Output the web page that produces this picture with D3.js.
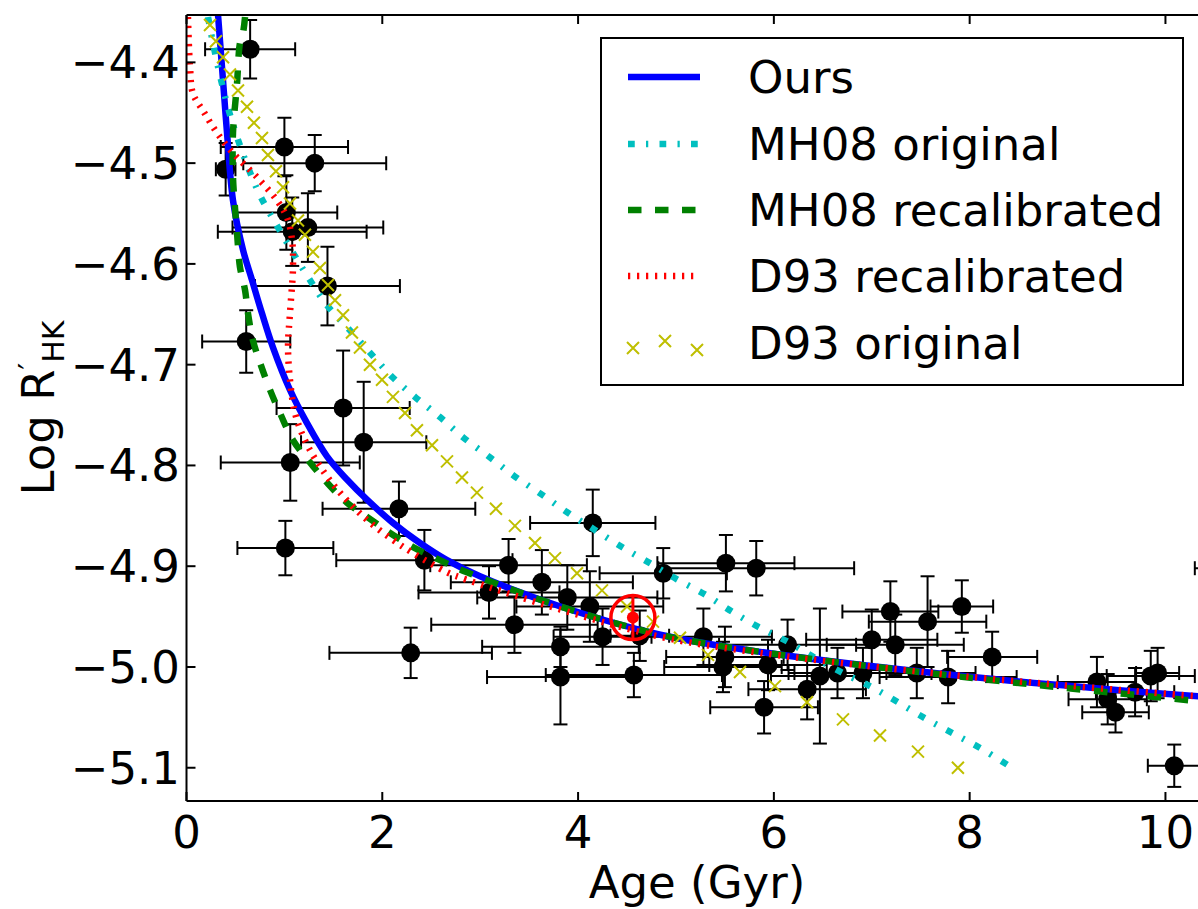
<!DOCTYPE html>
<meta charset="utf-8">
<script src="https://d3js.org/d3.v7.min.js"></script>
<style>
  body { margin: 0; background: #fff; }
  text { font-family: "DejaVu Sans", sans-serif; }
</style>
<div id="my_dataviz"></div>
<script>

// stars: age (Gyr), log R'HK and their errors
const starAge = [0.65, 1.00, 1.31, 0.40, 1.02, 1.08, 1.24, 1.44, 0.61, 1.60, 1.81, 1.06, 2.17, 1.01, 2.43, 2.29,
  4.15, 3.29, 3.63, 3.09, 3.89, 4.12, 4.87, 5.51, 5.82, 3.35, 4.25, 4.63, 3.82, 3.82, 4.57, 5.28, 5.50, 5.48,
  6.14, 5.94, 5.90, 6.34, 6.47, 6.65, 6.91, 7.00, 7.24, 7.19, 7.57, 7.92, 8.23, 7.46, 7.78,
  9.30, 9.41, 9.49, 9.69, 9.85, 9.92, 10.09, 10.75];
const starLogR = [-4.387, -4.484, -4.500, -4.506, -4.549, -4.568, -4.564, -4.622, -4.677, -4.743, -4.777, -4.797, -4.843, -4.882, -4.894, -4.986,
  -4.857, -4.899, -4.916, -4.926, -4.931, -4.940, -4.907, -4.897, -4.902, -4.958, -4.970, -4.969, -4.980, -5.010, -5.008, -4.970, -4.990, -5.000,
  -4.978, -4.998, -5.040, -5.022, -5.009, -5.006, -5.006, -4.973, -4.978, -4.945, -4.955, -4.940, -4.990, -5.006, -5.010,
  -5.015, -5.032, -5.045, -5.025, -5.009, -5.006, -5.098, -4.902];
const starAgeErr = [0.46, 0.65, 0.73, 0.10, 0.52, 0.76, 0.77, 0.74, 0.45, 0.68, 0.64, 0.71, 0.78, 0.49, 0.90, 0.83,
  0.64, 0.80, 0.93, 0.72, 0.92, 0.75, 0.65, 0.70, 1.00, 0.85, 0.50, 0.30, 0.80, 0.75, 0.90, 0.70, 0.60, 0.60,
  0.70, 0.60, 0.55, 0.60, 0.50, 0.50, 0.70, 0.67, 0.70, 0.49, 0.60, 0.32, 0.46, 0.60, 0.70,
  0.40, 0.40, 0.34, 0.40, 0.45, 0.22, 0.27, 0.45];
const starLogRErr = [0.029, 0.029, 0.028, 0.026, 0.037, 0.034, 0.034, 0.039, 0.031, 0.057, 0.060, 0.038, 0.027, 0.027, 0.030, 0.025,
  0.033, 0.026, 0.032, 0.026, 0.032, 0.035, 0.025, 0.028, 0.027, 0.028, 0.028, 0.025, 0.020, 0.047, 0.022, 0.028, 0.030, 0.025,
  0.025, 0.025, 0.026, 0.030, 0.067, 0.025, 0.025, 0.030, 0.030, 0.030, 0.045, 0.026, 0.025, 0.025, 0.026,
  0.025, 0.025, 0.020, 0.024, 0.025, 0.025, 0.021, 0.025];

// the Sun
const sunAge = 4.56, sunLogR = -4.951, sunLogRErr = 0.022;

// age-activity relations
const oursAge  = [0.322, 0.363, 0.414, 0.475, 0.577, 0.669, 0.771, 0.884, 1.057, 1.231, 1.435, 1.639, 1.844, 2.109, 2.385,
  2.661, 2.998, 3.82, 4.84, 5.86, 8.03, 10.45];
const oursLogR = [-4.353, -4.405, -4.470, -4.537, -4.586, -4.616, -4.649, -4.683, -4.725, -4.758, -4.791, -4.814, -4.834, -4.857, -4.877,
  -4.894, -4.910, -4.940, -4.968, -4.985, -5.010, -5.030];

const mh08Age  = [0.220, 0.271, 0.342, 0.424, 0.516, 0.628, 0.751, 0.924, 1.088, 1.241, 1.435, 1.670, 1.874, 2.099, 2.334,
  2.589, 2.824, 3.100, 3.355, 3.631, 3.896, 4.172, 4.448, 4.734, 5.010, 5.296, 5.572, 5.837, 6.144, 6.420, 6.706,
  7.002, 7.268, 7.564, 7.850, 8.136, 8.432];
const mh08LogR = [-4.355, -4.381, -4.413, -4.445, -4.474, -4.504, -4.532, -4.562, -4.589, -4.613, -4.641, -4.666, -4.688, -4.712, -4.732,
  -4.752, -4.772, -4.792, -4.811, -4.829, -4.847, -4.864, -4.881, -4.897, -4.913, -4.928, -4.945, -4.960, -4.975, -4.991, -5.006,
  -5.020, -5.035, -5.052, -5.067, -5.082, -5.100];

const mh08RecAge  = [0.598, 0.577, 0.546, 0.516, 0.475, 0.475, 0.495, 0.516, 0.546, 0.598, 0.628, 0.679, 0.751, 0.853, 0.955,
  1.088, 1.261, 1.435, 1.639, 1.844, 2.079, 2.314, 2.589, 2.865, 3.82, 4.84, 5.86, 8.03, 10.45];
const mh08RecLogR = [-4.355, -4.371, -4.381, -4.421, -4.470, -4.514, -4.544, -4.569, -4.603, -4.626, -4.649, -4.676, -4.698, -4.725, -4.748,
  -4.775, -4.797, -4.817, -4.837, -4.851, -4.867, -4.881, -4.894, -4.906, -4.940, -4.968, -4.985, -5.011, -5.035];

const d93RecAge  = [0.015, 0.036, 0.066, 0.169, 0.312, 0.475, 0.720, 0.924, 1.027, 1.078, 1.088, 1.057, 1.037, 1.057, 1.108,
  1.210, 1.364, 1.568, 1.844, 2.110, 2.314, 2.661, 2.79, 3.82, 4.84, 5.86, 8.03, 10.45];
const d93RecLogR = [-4.355, -4.405, -4.431, -4.448, -4.470, -4.490, -4.514, -4.537, -4.554, -4.576, -4.603, -4.649, -4.682, -4.715, -4.748,
  -4.775, -4.801, -4.827, -4.854, -4.874, -4.887, -4.906, -4.911, -4.943, -4.970, -4.986, -5.010, -5.030];

const d93Age  = [0.240, 0.301, 0.373, 0.444, 0.526, 0.618, 0.689, 0.771, 0.832, 0.914, 0.986, 1.057, 1.139, 1.210, 1.292, 1.363,
  1.445, 1.517, 1.599, 1.690, 1.772, 1.874, 1.997, 2.109, 2.232, 2.354, 2.508, 2.661, 2.814, 2.967, 3.161, 3.355,
  3.560, 3.764, 3.989, 4.244, 4.500, 4.765, 5.041, 5.327, 5.654, 6.011, 6.338, 6.706, 7.084, 7.472, 7.880];
const d93LogR = [-4.363, -4.379, -4.395, -4.412, -4.428, -4.444, -4.460, -4.475, -4.492, -4.508, -4.524, -4.540, -4.557, -4.571, -4.588, -4.604,
  -4.621, -4.636, -4.651, -4.668, -4.683, -4.700, -4.715, -4.732, -4.748, -4.765, -4.780, -4.796, -4.812, -4.827, -4.843, -4.860,
  -4.877, -4.892, -4.907, -4.924, -4.940, -4.955, -4.971, -4.988, -5.005, -5.019, -5.035, -5.052, -5.068, -5.084, -5.100];

const xTicks = [0, 2, 4, 6, 8, 10];
const yTicks = [-4.4, -4.5, -4.6, -4.7, -4.8, -4.9, -5.0, -5.1];
const legendLabels = ["Ours", "MH08 original", "MH08 recalibrated", "D93 recalibrated", "D93 original"];

const W = 1198, H = 909;
const margin = {left: 186.5, top: 15, bottom: 108};
const plotW = 1023, plotH = H - margin.top - margin.bottom;
const fs = 45;

const svg = d3.select("#my_dataviz")
  .append("svg")
  .attr("width", W)
  .attr("height", H);

const x = d3.scaleLinear().domain([0, 10.45]).range([margin.left, margin.left + plotW]);
const y = d3.scaleLinear().domain([-5.133, -4.353]).range([margin.top + plotH, margin.top]);

svg.append("clipPath").attr("id", "clip")
  .append("rect")
  .attr("x", margin.left).attr("y", margin.top)
  .attr("width", plotW).attr("height", plotH);

const plot = svg.append("g").attr("clip-path", "url(#clip)");

// error bars + points
const stars = starAge.map((a, i) => ({a: a, r: starLogR[i], ea: starAgeErr[i], er: starLogRErr[i]}));
const cap = 7;
const eb = plot.append("g").attr("stroke", "black").attr("stroke-width", 2);
stars.forEach(d => {
  eb.append("line").attr("x1", x(d.a - d.ea)).attr("x2", x(d.a + d.ea)).attr("y1", y(d.r)).attr("y2", y(d.r));
  eb.append("line").attr("x1", x(d.a)).attr("x2", x(d.a)).attr("y1", y(d.r - d.er)).attr("y2", y(d.r + d.er));
  [d.a - d.ea, d.a + d.ea].forEach(v => eb.append("line")
    .attr("x1", x(v)).attr("x2", x(v)).attr("y1", y(d.r) - cap).attr("y2", y(d.r) + cap));
  [d.r - d.er, d.r + d.er].forEach(v => eb.append("line")
    .attr("x1", x(d.a) - cap).attr("x2", x(d.a) + cap).attr("y1", y(v)).attr("y2", y(v)));
});
plot.selectAll("circle.star")
  .data(stars)
  .join("circle")
  .attr("class", "star")
  .attr("cx", d => x(d.a))
  .attr("cy", d => y(d.r))
  .attr("r", 9.5)
  .attr("fill", "black");

// curves
const lineOf = (ages, vals) => d3.line().curve(d3.curveCatmullRom)
  .x((d, i) => x(ages[i])).y((d, i) => y(vals[i]))(ages);

const styles = [
  {c: "#0000ff", dash: null},
  {c: "#00bfbf", dash: "6.75,11.25,2.25,11.25"},
  {c: "#008000", dash: "13.5,13.5"},
  {c: "#ff0000", dash: "2.25,6.75"}
];
const curves = [[oursAge, oursLogR], [mh08Age, mh08LogR], [mh08RecAge, mh08RecLogR], [d93RecAge, d93RecLogR]];
curves.forEach((cv, i) => {
  plot.append("path")
    .attr("d", lineOf(cv[0], cv[1]))
    .attr("fill", "none")
    .attr("stroke", styles[i].c)
    .attr("stroke-width", 6.5)
    .attr("stroke-dasharray", styles[i].dash);
});

const xMark = (g, cx, cy) => g.append("path")
  .attr("d", `M${cx - 6},${cy - 6}L${cx + 6},${cy + 6}M${cx - 6},${cy + 6}L${cx + 6},${cy - 6}`)
  .attr("stroke", "#bfbf00").attr("stroke-width", 2).attr("fill", "none");
d93Age.forEach((a, i) => xMark(plot, x(a), y(d93LogR[i])));

// the Sun
plot.append("line")
  .attr("x1", x(sunAge)).attr("x2", x(sunAge))
  .attr("y1", y(sunLogR - sunLogRErr)).attr("y2", y(sunLogR + sunLogRErr))
  .attr("stroke", "red").attr("stroke-width", 3);
plot.append("circle").attr("cx", x(sunAge)).attr("cy", y(sunLogR)).attr("r", 22)
  .attr("fill", "none").attr("stroke", "red").attr("stroke-width", 3.5);
plot.append("circle").attr("cx", x(sunAge)).attr("cy", y(sunLogR)).attr("r", 6).attr("fill", "red");

// axes frame
const frame = svg.append("g").attr("stroke", "black").attr("stroke-width", 2);
frame.append("line").attr("x1", margin.left).attr("x2", W).attr("y1", margin.top).attr("y2", margin.top);
frame.append("line").attr("x1", margin.left).attr("x2", W).attr("y1", margin.top + plotH).attr("y2", margin.top + plotH);
frame.append("line").attr("x1", margin.left).attr("x2", margin.left).attr("y1", margin.top).attr("y2", margin.top + plotH);

xTicks.forEach(t => {
  frame.append("line").attr("x1", x(t)).attr("x2", x(t)).attr("y1", margin.top + plotH).attr("y2", margin.top + plotH - 9);
  frame.append("line").attr("x1", x(t)).attr("x2", x(t)).attr("y1", margin.top).attr("y2", margin.top + 9);
  svg.append("text").attr("x", x(t)).attr("y", 848).attr("text-anchor", "middle")
    .attr("font-size", fs).text(t);
});
yTicks.forEach(t => {
  frame.append("line").attr("x1", margin.left).attr("x2", margin.left + 9).attr("y1", y(t)).attr("y2", y(t));
  svg.append("text").attr("x", 180).attr("y", y(t) + 16).attr("text-anchor", "end")
    .attr("font-size", fs).text(d3.format(".1f")(t).replace("-", "\u2212"));
});

svg.append("text").attr("x", 697).attr("y", 898).attr("text-anchor", "middle")
  .attr("font-size", fs).text("Age (Gyr)");

const yl = svg.append("text").attr("transform", "translate(54,408) rotate(-90)")
  .attr("text-anchor", "middle").attr("font-size", fs);
yl.append("tspan").text("Log R");
yl.append("tspan").attr("dy", -14).attr("font-size", 30).text("\u2032");
yl.append("tspan").attr("dy", 24).attr("font-size", 30).text("HK");

// legend
const lg = svg.append("g");
lg.append("rect").attr("x", 601).attr("y", 38).attr("width", 582).attr("height", 347)
  .attr("fill", "white").attr("stroke", "black").attr("stroke-width", 2);
const rowY = [77, 144, 210, 276, 343];
legendLabels.forEach((lab, i) => {
  if (i < 4) {
    lg.append("line").attr("x1", 628).attr("x2", 700).attr("y1", rowY[i]).attr("y2", rowY[i])
      .attr("stroke", styles[i].c).attr("stroke-width", 6.5).attr("stroke-dasharray", styles[i].dash);
  } else {
    [[633, 5], [665, -2], [697, 7]].forEach(p => xMark(lg, p[0], rowY[i] + p[1]));
  }
  lg.append("text").attr("x", 748).attr("y", rowY[i] + 16).attr("font-size", fs).text(lab);
});

</script>
